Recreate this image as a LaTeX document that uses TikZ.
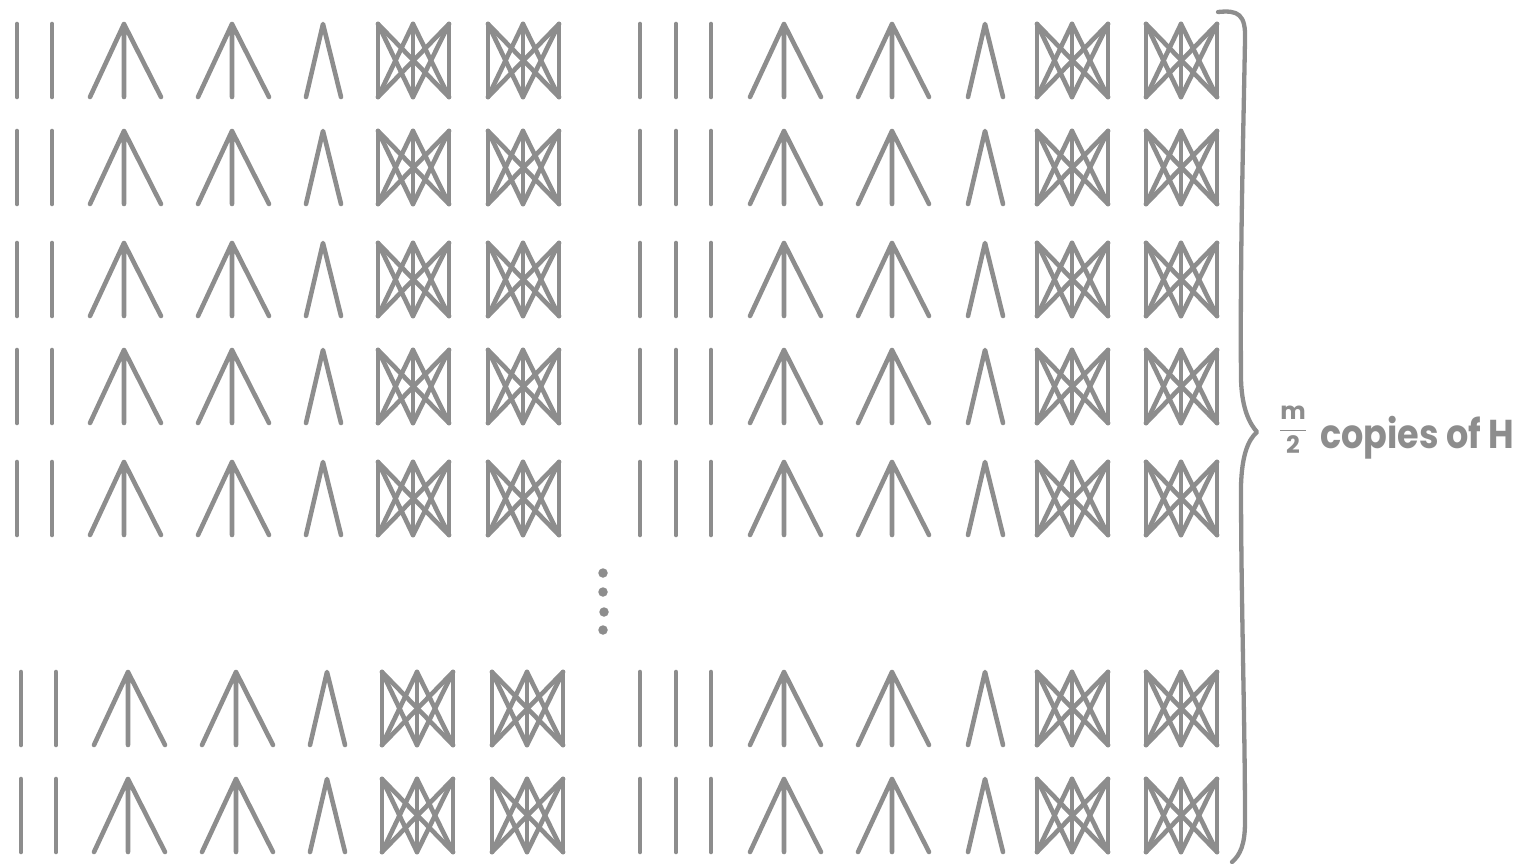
\documentclass[tikz,border=0pt]{standalone}
\usepackage{fontspec}
\usepackage{graphicx}
\newfontfamily\lblfont{Poppins}
\definecolor{edge}{RGB}{141,141,141}
\begin{document}
\begin{tikzpicture}[x=1pt,y=-1pt,
  g/.style={draw=edge,line width=4.6pt,line cap=round,line join=round},
  dotnode/.style={circle,fill=edge,draw=none,inner sep=0pt,minimum size=9.5pt},
  lbl/.style={text=edge,inner sep=0pt,font=\lblfont\bfseries},
  pics/vbar/.style={code={
    \coordinate (-t) at (0,0); \coordinate (-b) at (0,73);
    \draw[g] (-t) -- (-b);}},
  pics/fan/.style={code={
    \coordinate (-a) at (0,0); \coordinate (-l) at (-34,73);
    \coordinate (-m) at (0,73); \coordinate (-r) at (37,73);
    \draw[g] (-l) -- (-a) -- (-r) (-a) -- (-m);}},
  pics/wedge/.style={code={
    \coordinate (-a) at (0,0); \coordinate (-l) at (-17,73);
    \coordinate (-r) at (18,73);
    \draw[g] (-l) -- (-a) -- (-r);}},
  pics/kbip/.style={code={
    \coordinate (-t1) at (0,0); \coordinate (-t2) at (35,0); \coordinate (-t3) at (71,0);
    \coordinate (-b1) at (0,73); \coordinate (-b2) at (35,73); \coordinate (-b3) at (71,73);
    \foreach \i in {1,2,3}{\foreach \j in {1,2,3}{\draw[g] (-t\i) -- (-b\j);}}}},
]
\useasboundingbox (0,0) rectangle (1517,864);
\foreach \r/\y/\d in {1/24/0,2/131/0,3/243/0,4/350/0,5/462/0,6/672/4,7/779/4}{
  % left half
  \pic (la\r) at (17+\d,\y) {vbar};
  \pic (lb\r) at (52+\d,\y) {vbar};
  \pic (lc\r) at (124+\d,\y) {fan};
  \pic (ld\r) at (232+\d,\y) {fan};
  \pic (le\r) at (323+\d,\y) {wedge};
  \pic (lf\r) at (378+\d,\y) {kbip};
  \pic (lg\r) at (488+\d,\y) {kbip};
  % right half
  \pic (ra\r) at (640,\y) {vbar};
  \pic (rb\r) at (676,\y) {vbar};
  \pic (rc\r) at (711,\y) {vbar};
  \pic (rd\r) at (784,\y) {fan};
  \pic (re\r) at (892,\y) {fan};
  \pic (rf\r) at (985,\y) {wedge};
  \pic (rg\r) at (1037,\y) {kbip};
  \pic (rh\r) at (1146,\y) {kbip};
}
% vertical dots
\node[dotnode] (d1) at (603,573) {};
\node[dotnode] (d2) at (603,592) {};
\node[dotnode] (d3) at (604,612) {};
\node[dotnode] (d4) at (603,630) {};
% brace
\draw[g,line width=4.3pt] (1218,12) .. controls (1238,10) and (1246,14) .. (1245,40)
  .. controls (1243,150) and (1240,260) .. (1241,380)
  .. controls (1242,410) and (1250,424) .. (1257,432)
  .. controls (1248,440) and (1242,455) .. (1241,485)
  .. controls (1241,600) and (1245,720) .. (1245,822)
  .. controls (1245,845) and (1240,855) .. (1232,862);
% label
\node[lbl,anchor=center] (frac) at (1293,430)
  {\fontsize{24}{24}\selectfont$\displaystyle\frac{\mbox{m}}{\mbox{2}}$};
\node[lbl,anchor=base west] (txt) at (1320,448)
  {\fontsize{35}{35}\selectfont\scalebox{1}[1.15]{copies of H}};
\end{tikzpicture}
\end{document}
